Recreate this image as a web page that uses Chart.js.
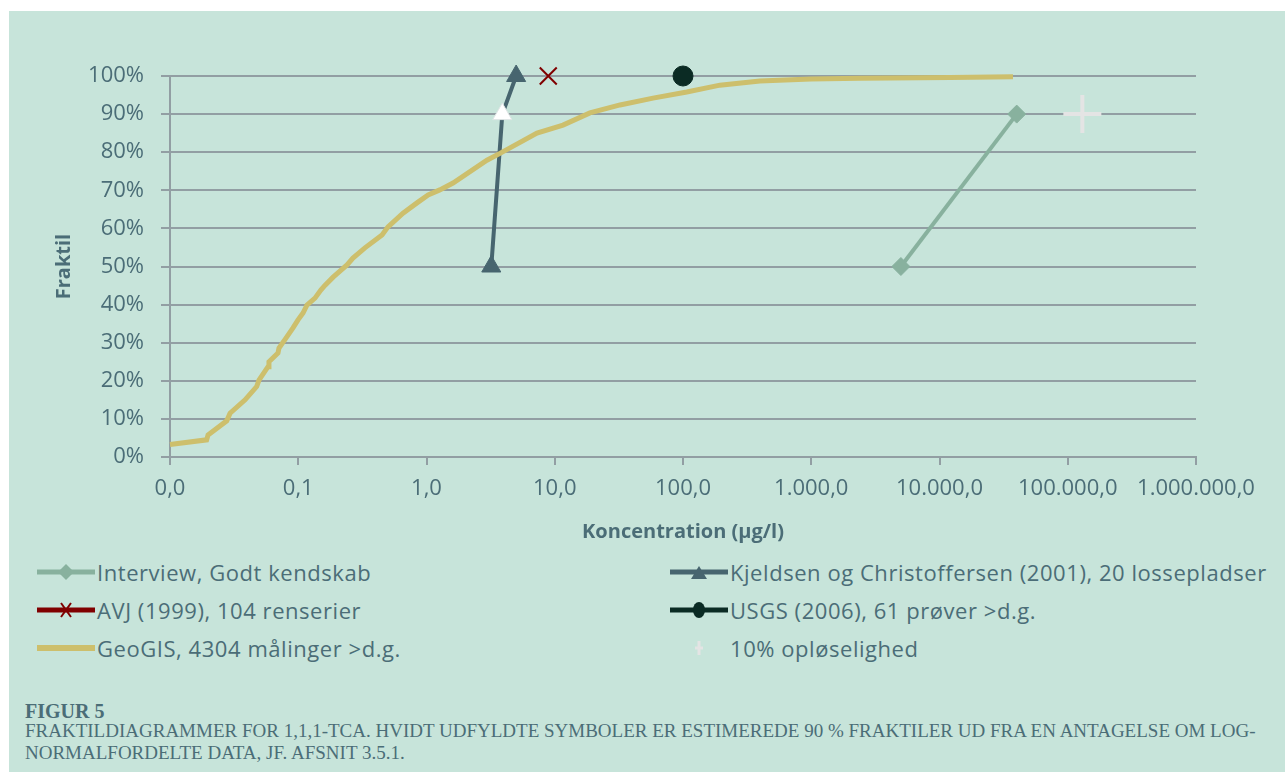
<!DOCTYPE html>
<html>
<head>
<meta charset="utf-8">
<script src="https://cdn.jsdelivr.net/npm/chart.js@4.4.1/dist/chart.umd.min.js"></script>
<style>
  body { margin: 0; width: 1285px; height: 772px; overflow: hidden; background: #fff; font-family: 'Open Sans', sans-serif; }
  #panel { position: absolute; left: 9px; top: 11px; width: 1276px; height: 761px; background: #c7e4da; }
  #chart { position: absolute; left: 0; top: 0; }
  .item { position: absolute; height: 38px; display: flex; align-items: center; font-size: 22px; letter-spacing: 0.55px; color: #4b6d77; white-space: nowrap; }
  .item svg { margin-right: 2px; }
  #fig { position: absolute; left: 25px; top: 700px; font-family: 'Liberation Serif', serif; font-weight: bold; font-size: 20px; line-height: 23px; color: #4b6d77; }
  #cap { position: absolute; left: 25px; top: 720px; font-family: 'Liberation Serif', serif; font-size: 19px; line-height: 22px; color: #4b6d77; white-space: nowrap; }
</style>
</head>
<body>
<div id="panel"></div>
<canvas id="chart" width="1285" height="550"></canvas>
<div id="legend"></div>
<div id="fig">FIGUR 5</div>
<div id="cap">FRAKTILDIAGRAMMER FOR 1,1,1-TCA. HVIDT UDFYLDTE SYMBOLER ER ESTIMEREDE 90 % FRAKTILER UD FRA EN ANTAGELSE OM LOG-<br>NORMALFORDELTE DATA, JF. AFSNIT 3.5.1.</div>
<script>
// x-axis decades (µg/l)
const xTicks = [0.01, 0.1, 1, 10, 100, 1000, 10000, 100000, 1000000];

// Interview, Godt kendskab
const interviewX = [5000, 40000];
const interviewY = [50, 90];
// Kjeldsen og Christoffersen (2001)
const kjeldsenX = [3.2, 3.9, 5];
const kjeldsenY = [50, 90, 100];
// AVJ (1999)
const avjX = [8.9];
const avjY = [100];
// USGS (2006)
const usgsX = [100];
const usgsY = [100];
// GeoGIS, 4304 målinger
const geoX = [0.01, 0.0193, 0.0198, 0.0277, 0.0294, 0.0385, 0.0474, 0.0494, 0.0581, 0.0591, 0.0695, 0.0708, 0.0802, 0.091, 0.0996,
  0.109, 0.117, 0.135, 0.150, 0.162, 0.187, 0.240, 0.267, 0.331, 0.450, 0.501, 0.656, 0.843, 1.03, 1.27, 1.61, 2.96, 3.74, 7.27,
  11.6, 18.8, 32.3, 58.4, 107, 194, 398, 995, 2400, 12100, 37400];
const geoY = [3.3, 4.5, 5.8, 9.5, 11.5, 15, 18.5, 20.2, 23.7, 25, 27.3, 28.6, 31.2, 33.9, 36,
  37.8, 39.9, 41.7, 43.8, 45.1, 47.2, 50.4, 52.2, 54.9, 58.3, 60.4, 64, 66.7, 68.8, 70.1, 71.9, 77.9, 79.7, 85,
  87.1, 90.3, 92.4, 94.2, 95.8, 97.6, 98.7, 99.2, 99.4, 99.6, 99.8];
// 10% opløselighed
const solX = [130000];
const solY = [90];

const textColor = '#4b6d77';
const gridColor = '#929ea3';

function pts(xs, ys) {
  return xs.map((x, i) => ({ x: x, y: ys[i] }));
}

function fmtDa(v) {
  let [i, d] = v.toFixed(1).split('.');
  i = i.replace(/\B(?=(\d{3})+(?!\d))/g, '.');
  return i + ',' + d;
}

const series = [
  { label: 'Interview, Godt kendskab', data: pts(interviewX, interviewY), color: '#88b19e', line: true, legendLine: true, lw: 4, style: 'rectRot', r: 9, order: 2 },
  { label: 'Kjeldsen og Christoffersen (2001), 20 lossepladser', data: pts(kjeldsenX, kjeldsenY), color: '#47656f', line: true, legendLine: true, lw: 4, style: 'triangle', r: 11, order: 3,
    fills: ['#47656f', '#ffffff', '#47656f'] },
  { label: 'AVJ (1999), 104 renserier', data: pts(avjX, avjY), color: '#800000', line: false, legendLine: true, lw: 2, style: 'crossRot', r: 12, order: 1 },
  { label: 'USGS (2006), 61 prøver >d.g.', data: pts(usgsX, usgsY), color: '#0b2b24', line: false, legendLine: true, lw: 1, style: 'circle', r: 10, order: 1 },
  { label: 'GeoGIS, 4304 målinger >d.g.', data: pts(geoX, geoY), color: '#cdbf6c', line: true, legendLine: true, lw: 5, style: false, r: 0, order: 0 },
  { label: '10% opløselighed', data: pts(solX, solY), color: '#e4e4e4', line: false, legendLine: false, lw: 4, style: 'cross', r: 19, order: 1 }
];

const datasets = series.map(s => ({
  label: s.label,
  data: s.data,
  showLine: s.line,
  borderColor: s.color,
  backgroundColor: s.color,
  borderWidth: s.lw,
  pointStyle: s.style,
  pointRadius: s.r,
  pointHoverRadius: s.r,
  pointBackgroundColor: s.fills || s.color,
  pointBorderColor: s.fills ? s.fills.map(f => f === '#ffffff' ? '#dfe5e5' : s.color) : s.color,
  pointBorderWidth: s.style === 'cross' || s.style === 'crossRot' ? s.lw : 1,
  tension: 0,
  clip: false,
  order: s.order
}));

new Chart(document.getElementById('chart'), {
  type: 'scatter',
  data: { datasets: datasets },
  options: {
    responsive: false,
    animation: false,
    layout: { padding: { left: 0, top: 76, right: 89, bottom: 0 } },
    plugins: { legend: { display: false }, tooltip: { enabled: false } },
    scales: {
      x: {
        type: 'logarithmic',
        min: 0.01,
        max: 1000000,
        afterBuildTicks: scale => { scale.ticks = xTicks.map(v => ({ value: v })); },
        afterFit: scale => { scale.height = 93; },
        ticks: {
          autoSkip: false, maxRotation: 0, padding: 11,
          color: textColor, font: { family: 'Open Sans', size: 22 },
          callback: v => fmtDa(v)
        },
        grid: { drawOnChartArea: false, drawTicks: true, tickLength: 8, color: gridColor, lineWidth: 2 },
        border: { color: gridColor, width: 2 },
        title: { display: true, text: 'Koncentration (µg/l)', color: textColor, font: { family: 'Open Sans', size: 20, weight: 'bold' }, padding: { top: 0, bottom: 6 } }
      },
      y: {
        min: 0,
        max: 100,
        afterFit: scale => { scale.width = 170; },
        ticks: {
          stepSize: 10, padding: 17,
          color: textColor, font: { family: 'Open Sans', size: 22 },
          callback: v => v + '%'
        },
        grid: { color: gridColor, lineWidth: 2, tickLength: 9 },
        border: { color: gridColor, width: 2 },
        title: { display: true, text: 'Fraktil', color: textColor, font: { family: 'Open Sans', size: 20, weight: 'bold' }, padding: { top: 52, bottom: 0 } }
      }
    }
  }
});

// legend, built from the same series list
function icon(s) {
  const w = 58, h = 22, cx = 29, cy = 11;
  let g = '';
  if (s.legendLine) g += `<line x1="0" y1="${cy}" x2="${w}" y2="${cy}" stroke="${s.color}" stroke-width="${Math.max(s.lw, 4) + 1}"/>`;
  if (s.style === 'rectRot') g += `<polygon points="${cx},${cy - 8} ${cx + 8},${cy} ${cx},${cy + 8} ${cx - 8},${cy}" fill="${s.color}"/>`;
  if (s.style === 'triangle') g += `<polygon points="${cx},${cy - 6} ${cx + 8},${cy + 7} ${cx - 8},${cy + 7}" fill="${s.color}"/>`;
  if (s.style === 'crossRot') g += `<path d="M${cx - 5},${cy - 7}L${cx + 5},${cy + 7}M${cx + 5},${cy - 7}L${cx - 5},${cy + 7}" stroke="${s.color}" stroke-width="2"/>`;
  if (s.style === 'circle') g += `<ellipse cx="${cx}" cy="${cy}" rx="6" ry="8" fill="${s.color}"/>`;
  if (s.style === 'cross') g += `<path d="M${cx},${cy - 7}L${cx},${cy + 7}M${cx - 4},${cy}L${cx + 4},${cy}" stroke="${s.color}" stroke-width="3"/>`;
  return `<svg width="${w}" height="${h}" viewBox="0 0 ${w} ${h}">${g}</svg>`;
}
const legendPos = [[37, 553], [670, 553], [37, 591], [670, 591], [37, 629], [670, 629]];
const legend = document.getElementById('legend');
series.forEach((s, i) => {
  const d = document.createElement('div');
  d.className = 'item';
  d.style.left = legendPos[i][0] + 'px';
  d.style.top = legendPos[i][1] + 'px';
  d.innerHTML = icon(s) + '<span>' + s.label.replace(/&/g, '&amp;').replace(/>/g, '&gt;') + '</span>';
  legend.appendChild(d);
});
</script>
</body>
</html>
